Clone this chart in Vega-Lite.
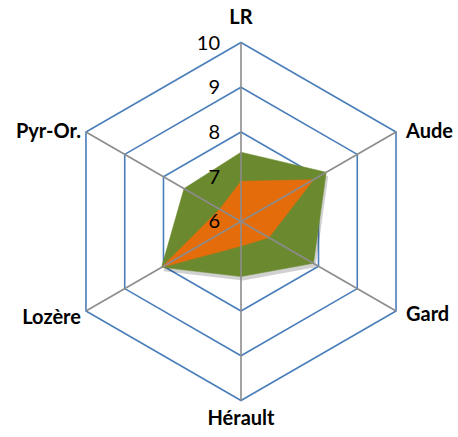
{
  "$schema": "https://vega.github.io/schema/vega-lite/v6.json",
  "width": 458,
  "height": 437,
  "autosize": {"type": "none"},
  "padding": 0,
  "config": {"view": {"stroke": null}},
  "datasets": {
    "scores": [
      {"axis": "LR", "series": "S1", "value": 7.55},
      {"axis": "Aude", "series": "S1", "value": 8.2},
      {"axis": "Gard", "series": "S1", "value": 7.87},
      {"axis": "Hérault", "series": "S1", "value": 7.23},
      {"axis": "Lozère", "series": "S1", "value": 8.05},
      {"axis": "Pyr-Or.", "series": "S1", "value": 7.47},
      {"axis": "LR", "series": "S2", "value": 6.9},
      {"axis": "Aude", "series": "S2", "value": 7.87},
      {"axis": "Gard", "series": "S2", "value": 6.72},
      {"axis": "Hérault", "series": "S2", "value": 6.55},
      {"axis": "Lozère", "series": "S2", "value": 8.05},
      {"axis": "Pyr-Or.", "series": "S2", "value": 6.55}
    ],
    "axes": [
      {"axis": "LR", "levels": [7, 8, 9, 10]},
      {"axis": "Aude", "levels": [7, 8, 9, 10]},
      {"axis": "Gard", "levels": [7, 8, 9, 10]},
      {"axis": "Hérault", "levels": [7, 8, 9, 10]},
      {"axis": "Lozère", "levels": [7, 8, 9, 10]},
      {"axis": "Pyr-Or.", "levels": [7, 8, 9, 10]}
    ],
    "ticks": [{"t": 6}, {"t": 7}, {"t": 8}, {"t": 9}, {"t": 10}]
  },
  "layer": [
    {
      "data": {"name": "axes"},
      "transform": [
        {"flatten": ["levels"], "as": ["level"]},
        {"calculate": "indexof(['LR','Aude','Gard','Hérault','Lozère','Pyr-Or.'], datum.axis)", "as": "idx"},
        {"calculate": "(datum.level-6)*sin(datum.idx*PI/3)", "as": "px"},
        {"calculate": "(datum.level-6)*cos(datum.idx*PI/3)", "as": "py"}
      ],
      "mark": {"type": "line", "interpolate": "linear-closed", "stroke": "#4A7EBB", "strokeWidth": 1.6},
      "encoding": {
        "x": {"field": "px", "type": "quantitative", "scale": {"domain": [-5.385, 4.849], "nice": false, "zero": false}, "axis": null},
        "y": {"field": "py", "type": "quantitative", "scale": {"domain": [-4.816, 4.95], "nice": false, "zero": false}, "axis": null},
        "detail": {"field": "level", "type": "nominal"},
        "order": {"field": "idx", "type": "quantitative"}
      }
    },
    {
      "data": {"name": "scores"},
      "transform": [
        {"filter": "datum.series == 'S1'"},
        {"calculate": "indexof(['LR','Aude','Gard','Hérault','Lozère','Pyr-Or.'], datum.axis)", "as": "idx"},
        {"calculate": "(datum.value-6)*sin(datum.idx*PI/3)", "as": "px"},
        {"calculate": "(datum.value-6)*cos(datum.idx*PI/3)", "as": "py"}
      ],
      "mark": {"type": "line", "interpolate": "linear-closed", "fill": "#000000", "fillOpacity": 0.18, "strokeOpacity": 0, "xOffset": 2, "yOffset": 4},
      "encoding": {
        "x": {"field": "px", "type": "quantitative", "axis": null},
        "y": {"field": "py", "type": "quantitative", "axis": null},
        "order": {"field": "idx", "type": "quantitative"}
      }
    },
    {
      "data": {"name": "scores"},
      "transform": [
        {"filter": "datum.series == 'S1'"},
        {"calculate": "indexof(['LR','Aude','Gard','Hérault','Lozère','Pyr-Or.'], datum.axis)", "as": "idx"},
        {"calculate": "(datum.value-6)*sin(datum.idx*PI/3)", "as": "px"},
        {"calculate": "(datum.value-6)*cos(datum.idx*PI/3)", "as": "py"}
      ],
      "mark": {"type": "line", "interpolate": "linear-closed", "fill": "#6B8A2F", "fillOpacity": 1, "stroke": "#6B8A2F", "strokeWidth": 0.5},
      "encoding": {
        "x": {"field": "px", "type": "quantitative", "axis": null},
        "y": {"field": "py", "type": "quantitative", "axis": null},
        "order": {"field": "idx", "type": "quantitative"}
      }
    },
    {
      "data": {"name": "scores"},
      "transform": [
        {"filter": "datum.series == 'S2'"},
        {"calculate": "indexof(['LR','Aude','Gard','Hérault','Lozère','Pyr-Or.'], datum.axis)", "as": "idx"},
        {"calculate": "(datum.value-6)*sin(datum.idx*PI/3)", "as": "px"},
        {"calculate": "(datum.value-6)*cos(datum.idx*PI/3)", "as": "py"}
      ],
      "mark": {"type": "line", "interpolate": "linear-closed", "fill": "#E46C0A", "fillOpacity": 1, "stroke": "#E46C0A", "strokeWidth": 0.5},
      "encoding": {
        "x": {"field": "px", "type": "quantitative", "axis": null},
        "y": {"field": "py", "type": "quantitative", "axis": null},
        "order": {"field": "idx", "type": "quantitative"}
      }
    },
    {
      "data": {"name": "axes"},
      "transform": [
        {"calculate": "indexof(['LR','Aude','Gard','Hérault','Lozère','Pyr-Or.'], datum.axis)", "as": "idx"},
        {"calculate": "4*sin(datum.idx*PI/3)", "as": "px"},
        {"calculate": "4*cos(datum.idx*PI/3)", "as": "py"},
        {"calculate": "0", "as": "zero"}
      ],
      "mark": {"type": "rule", "stroke": "#8C8C8C", "strokeWidth": 1.6},
      "encoding": {
        "x": {"field": "px", "type": "quantitative", "axis": null},
        "y": {"field": "py", "type": "quantitative", "axis": null},
        "x2": {"field": "zero"},
        "y2": {"field": "zero"}
      }
    },
    {
      "data": {"name": "ticks"},
      "transform": [{"calculate": "datum.t - 6", "as": "py"}, {"calculate": "0", "as": "px"}],
      "mark": {"type": "text", "align": "right", "baseline": "middle", "dx": -21, "dy": 1, "font": "Lato", "fontSize": 20, "color": "#000000"},
      "encoding": {
        "x": {"field": "px", "type": "quantitative", "axis": null},
        "y": {"field": "py", "type": "quantitative", "axis": null},
        "text": {"field": "t", "type": "quantitative"}
      }
    },
    {
      "data": {"values": [{"label": "LR", "px": 0, "py": 4.55}, {"label": "Hérault", "px": 0, "py": -4.42}]},
      "mark": {"type": "text", "align": "center", "baseline": "middle", "font": "Lato", "fontWeight": "bold", "fontSize": 20, "color": "#000000"},
      "encoding": {
        "x": {"field": "px", "type": "quantitative", "axis": null},
        "y": {"field": "py", "type": "quantitative", "axis": null},
        "text": {"field": "label", "type": "nominal"}
      }
    },
    {
      "data": {"values": [{"label": "Aude", "px": 3.464, "py": 2.0}, {"label": "Gard", "px": 3.464, "py": -2.1}]},
      "mark": {"type": "text", "align": "left", "baseline": "middle", "dx": 10, "font": "Lato", "fontWeight": "bold", "fontSize": 20, "color": "#000000"},
      "encoding": {
        "x": {"field": "px", "type": "quantitative", "axis": null},
        "y": {"field": "py", "type": "quantitative", "axis": null},
        "text": {"field": "label", "type": "nominal"}
      }
    },
    {
      "data": {"values": [{"label": "Pyr-Or.", "px": -3.464, "py": 2.0}, {"label": "Lozère", "px": -3.464, "py": -2.15}]},
      "mark": {"type": "text", "align": "right", "baseline": "middle", "dx": -5, "font": "Lato", "fontWeight": "bold", "fontSize": 20, "color": "#000000"},
      "encoding": {
        "x": {"field": "px", "type": "quantitative", "axis": null},
        "y": {"field": "py", "type": "quantitative", "axis": null},
        "text": {"field": "label", "type": "nominal"}
      }
    }
  ]
}
